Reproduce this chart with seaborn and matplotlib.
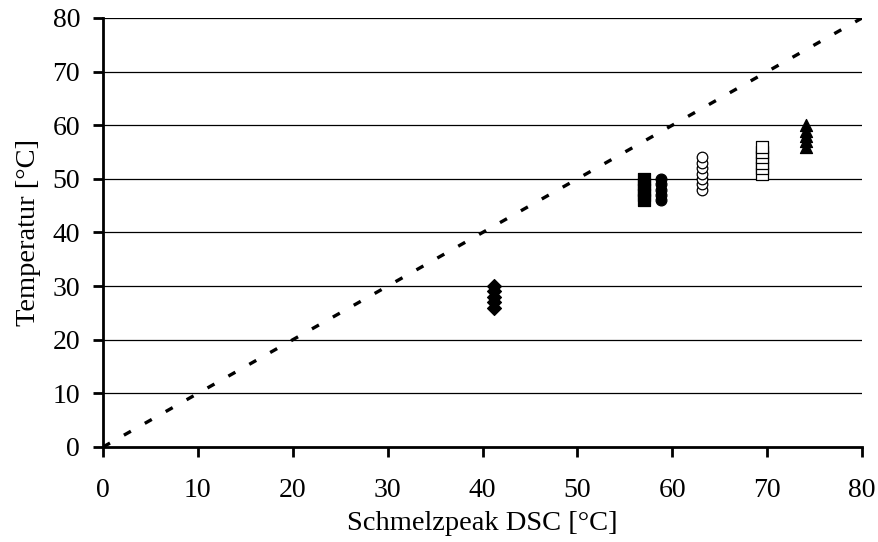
import matplotlib
matplotlib.use("Agg")
import matplotlib.pyplot as plt
import seaborn as sns

# Melting peak from DSC (x) against measured temperatures (y) for each sample
diamond_x = [41.2] * 5
diamond_y = [26, 27, 28, 29, 30]
fsquare_x = [57.0] * 5
fsquare_y = [46, 47, 48, 49, 50]
fcircle_x = [58.8] * 5
fcircle_y = [46, 47, 48, 49, 50]
ocircle_x = [63.1] * 7
ocircle_y = [48, 49, 50, 51, 52, 53, 54]
osquare_x = [69.5] * 6
osquare_y = [51, 52, 53, 54, 55, 56]
triangle_x = [74.1] * 5
triangle_y = [56, 57, 58, 59, 60]

# Reference line y = x
diag_x = [0, 80]
diag_y = [0, 80]

x_ticks = [0, 10, 20, 30, 40, 50, 60, 70, 80]
y_ticks = [0, 10, 20, 30, 40, 50, 60, 70, 80]

sns.set_theme(style="white")
plt.rcParams["font.family"] = ["Liberation Serif", "DejaVu Serif"]

fig = plt.figure(figsize=(8.79, 5.42), dpi=100)
ax = fig.add_axes([0.1172, 0.1753, 0.8635, 0.7915])

for yv in y_ticks[1:]:
    ax.axhline(yv, color="black", lw=0.9, zorder=0)

sns.lineplot(x=diag_x, y=diag_y, ax=ax, color="black", lw=2.4,
             dashes=False, zorder=2)
ax.lines[-1].set_dashes((2.4, 4.8))

series = [
    (diamond_x, diamond_y, "D", "black", "black", 50),
    (fsquare_x, fsquare_y, "s", "black", "black", 65),
    (fcircle_x, fcircle_y, "o", "black", "black", 60),
    (ocircle_x, ocircle_y, "o", "white", "black", 58),
    (osquare_x, osquare_y, "s", "white", "black", 75),
    (triangle_x, triangle_y, "^", "black", "black", 75),
]
for xs, ys, m, fc, ec, s in series:
    sns.scatterplot(x=xs, y=ys, ax=ax, marker=m, s=s, color=fc,
                    edgecolor=ec, linewidth=0.9, zorder=3, legend=False)

ax.set_xlim(0, 80)
ax.set_ylim(0, 80)
ax.set_xticks(x_ticks)
ax.set_yticks(y_ticks)
ax.tick_params(axis="both", direction="out", length=7, width=2,
               color="black", labelsize=20, labelcolor="black",
               bottom=True, left=True)
ax.tick_params(axis="x", pad=15)
ax.tick_params(axis="y", pad=9.5)
for side in ["top", "right"]:
    ax.spines[side].set_visible(False)
for side in ["left", "bottom"]:
    ax.spines[side].set_color("black")
    ax.spines[side].set_linewidth(2)

ax.set_xlabel("Schmelzpeak DSC [°C]", fontsize=20.5, color="black", labelpad=6)
ax.set_ylabel("Temperatur [°C]", fontsize=20.5, color="black", labelpad=8)

fig.savefig("out.png", dpi=100)
